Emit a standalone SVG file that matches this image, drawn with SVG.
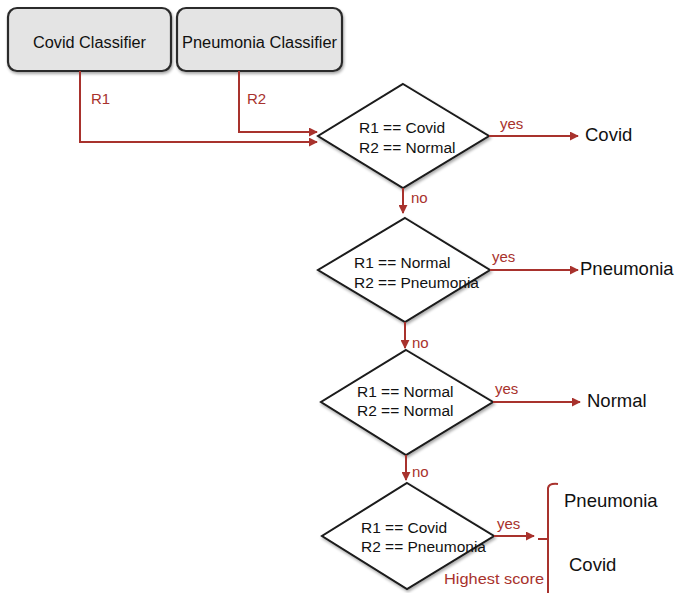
<svg xmlns="http://www.w3.org/2000/svg" width="683" height="593" viewBox="0 0 683 593">
  <style>
    .box { fill: #e4e4e4; stroke: #2b2b2b; stroke-width: 2.2; }
    .dec { fill: #ffffff; stroke: #1a1a1a; stroke-width: 2; }
    .t { font-family: "Liberation Sans", Arial, sans-serif; fill: #111; }
    .bt { font-size: 16px; }
    .dt { font-size: 15.5px; }
    .out { font-size: 18.5px; }
    .lbl { font-family: "Liberation Sans", Arial, sans-serif; fill: #a8322d; font-size: 15px; }
    .wire { fill: none; stroke: #a8322d; stroke-width: 2; }
  </style>
  <defs>
    <marker id="arr" viewBox="0 0 10 10" refX="9" refY="5" markerWidth="9" markerHeight="9" markerUnits="userSpaceOnUse" orient="auto">
      <path d="M0,0 L10,5 L0,10 z" fill="#a8322d"/>
    </marker>
    <filter id="sh" x="-10%" y="-10%" width="125%" height="130%">
      <feGaussianBlur in="SourceAlpha" stdDeviation="1.5"/>
      <feOffset dx="1" dy="1.5" result="b"/>
      <feComponentTransfer><feFuncA type="linear" slope="0.35"/></feComponentTransfer>
      <feMerge><feMergeNode/><feMergeNode in="SourceGraphic"/></feMerge>
    </filter>
  </defs>

  <rect width="683" height="593" fill="#ffffff"/>

  <!-- classifier boxes -->
  <g id="covid-classifier">
    <rect class="box" x="8" y="8" width="163" height="63" rx="9" filter="url(#sh)"/>
    <text class="t bt" x="33" y="48" textLength="113" lengthAdjust="spacingAndGlyphs">Covid Classifier</text>
  </g>
  <g id="pneumonia-classifier">
    <rect class="box" x="177" y="8" width="165" height="63" rx="9" filter="url(#sh)"/>
    <text class="t bt" x="182" y="48" textLength="155" lengthAdjust="spacingAndGlyphs">Pneumonia Classifier</text>
  </g>

  <!-- decision diamonds -->
  <g id="decision-1">
    <polygon class="dec" points="403,84 489,136 403,188 318,136" filter="url(#sh)"/>
    <text class="t dt" x="359" y="133">R1 == Covid</text>
    <text class="t dt" x="359" y="153">R2 == Normal</text>
  </g>
  <g id="decision-2">
    <polygon class="dec" points="405,218 490,270 405,322 318,270" filter="url(#sh)"/>
    <text class="t dt" x="354" y="268">R1 == Normal</text>
    <text class="t dt" x="354" y="288">R2 == Pneumonia</text>
  </g>
  <g id="decision-3">
    <polygon class="dec" points="406,350 493,402 406,455 321,402" filter="url(#sh)"/>
    <text class="t dt" x="357" y="397">R1 == Normal</text>
    <text class="t dt" x="357" y="416">R2 == Normal</text>
  </g>
  <g id="decision-4">
    <polygon class="dec" points="407,483 494,536 407,589 322,536" filter="url(#sh)"/>
    <text class="t dt" x="361" y="533">R1 == Covid</text>
    <text class="t dt" x="361" y="552">R2 == Pneumonia</text>
  </g>

  <!-- outcomes -->
  <g id="out-covid"><text class="t out" x="585" y="141">Covid</text></g>
  <g id="out-pneumonia"><text class="t out" x="580" y="275">Pneumonia</text></g>
  <g id="out-normal"><text class="t out" x="587" y="407">Normal</text></g>
  <g id="out-highest">
    <text class="t out" x="564" y="507">Pneumonia</text>
    <text class="t out" x="569" y="571">Covid</text>
  </g>

  <!-- connectors -->
  <g id="connectors">
    <path class="wire" d="M80,71 V142 H317" marker-end="url(#arr)"/>
    <path class="wire" d="M239,71 V132 H317" marker-end="url(#arr)"/>
    <path class="wire" d="M489,136 H578" marker-end="url(#arr)"/>
    <path class="wire" d="M403,188 V213" marker-end="url(#arr)"/>
    <path class="wire" d="M490,270 H578" marker-end="url(#arr)"/>
    <path class="wire" d="M405,322 V348" marker-end="url(#arr)"/>
    <path class="wire" d="M493,402 H580" marker-end="url(#arr)"/>
    <path class="wire" d="M406,455 V480" marker-end="url(#arr)"/>
    <path class="wire" d="M494,536 H534" marker-end="url(#arr)"/>
    <!-- brace grouping the highest-score outcomes -->
    <path class="wire" d="M538,539 H548"/>
    <path class="wire" d="M558,484 Q549,483 548,488 V593"/>

    <text class="lbl" x="91" y="104">R1</text>
    <text class="lbl" x="247" y="104">R2</text>
    <text class="lbl" x="500" y="129">yes</text>
    <text class="lbl" x="411" y="203">no</text>
    <text class="lbl" x="492" y="262">yes</text>
    <text class="lbl" x="412" y="348">no</text>
    <text class="lbl" x="495" y="394">yes</text>
    <text class="lbl" x="412" y="477">no</text>
    <text class="lbl" x="497" y="529">yes</text>
    <text class="lbl" x="444" y="584" textLength="100" lengthAdjust="spacingAndGlyphs">Highest score</text>
  </g>
</svg>
